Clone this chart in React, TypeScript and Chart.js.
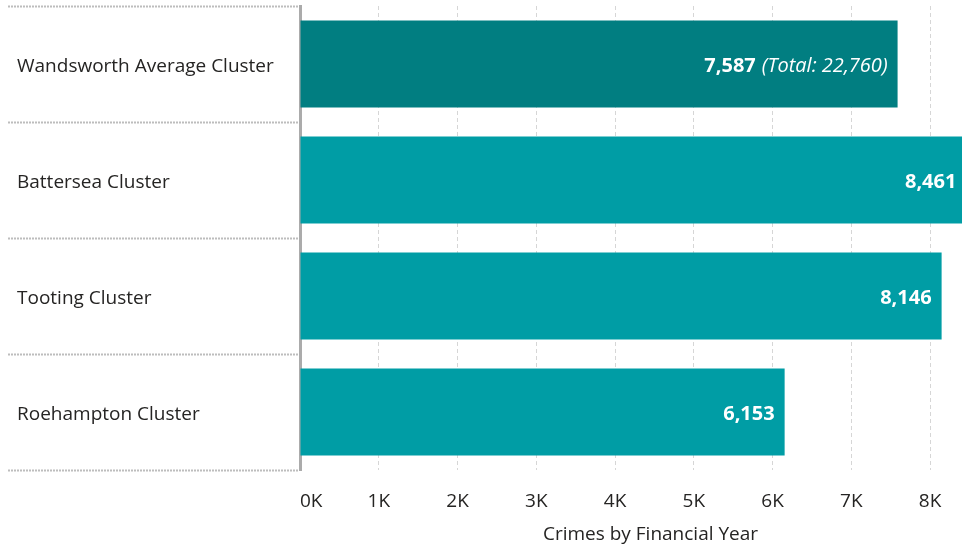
import React, { useEffect, useRef } from "react";
import { Chart, registerables } from "chart.js";

Chart.register(...registerables);

const categories = [
  "Wandsworth Average Cluster",
  "Battersea Cluster",
  "Tooting Cluster",
  "Roehampton Cluster",
];
const crimes = [7587, 8461, 8146, 6153];
const totalLabel = "(Total: 22,760)";
const barColors = ["#017E81", "#009DA5", "#009DA5", "#009DA5"];
const xTickValues = [0, 1000, 2000, 3000, 4000, 5000, 6000, 7000, 8000];
const xMax = 8900;
const xTitle = "Crimes by Financial Year";

const FONT = "'Segoe UI', 'Open Sans', sans-serif";
const TEXT = "#252423";

const valueLabels = {
  id: "valueLabels",
  afterDatasetsDraw(chart: any) {
    const ctx = chart.ctx;
    const meta = chart.getDatasetMeta(0);
    ctx.save();
    ctx.fillStyle = "#ffffff";
    ctx.textBaseline = "middle";
    meta.data.forEach((el: any, i: number) => {
      let x = el.x - 10;
      const y = el.y + 2;
      ctx.textAlign = "right";
      if (i === 0) {
        ctx.font = `italic 20px ${FONT}`;
        ctx.fillText(totalLabel, x, y);
        x -= ctx.measureText(totalLabel).width + 6;
      }
      ctx.font = `bold 20px ${FONT}`;
      ctx.fillText(crimes[i].toLocaleString("en-US"), x, y);
    });
    ctx.restore();
  },
};

export default function App() {
  const ref = useRef<HTMLCanvasElement>(null);
  useEffect(() => {
    if (!ref.current) return;
    const chart = new Chart(ref.current, {
      type: "bar",
      data: {
        labels: categories,
        datasets: [
          {
            data: crimes,
            backgroundColor: barColors,
            barPercentage: 0.75,
            categoryPercentage: 1,
          },
        ],
      },
      plugins: [valueLabels],
      options: {
        indexAxis: "y",
        responsive: false,
        animation: false,
        devicePixelRatio: 1,
        layout: { padding: { left: 17, top: 6, right: 0, bottom: 0 } },
        plugins: { legend: { display: false }, tooltip: { enabled: false } },
        scales: {
          x: {
            min: 0,
            max: xMax,
            position: "bottom",
            afterBuildTicks(scale: any) {
              scale.ticks = [...xTickValues, xMax].map((v) => ({ value: v }));
            },
            afterFit(scale: any) {
              scale.height = 76;
              scale.paddingLeft = 0;
              scale.paddingRight = 0;
            },
            border: { display: false, dash: [4, 3] },
            grid: {
              drawTicks: false,
              lineWidth: 1,
              color: (c: any) =>
                c.tick && c.tick.value > 0 && c.tick.value < xMax
                  ? "#d6d6d6"
                  : "rgba(0,0,0,0)",
            },
            ticks: {
              autoSkip: false,
              maxRotation: 0,
              align: "inner",
              padding: 20,
              color: TEXT,
              font: { family: FONT, size: 19 },
              callback: (v: any) => (Number(v) >= xMax ? "" : Number(v) / 1000 + "K"),
            },
            title: {
              display: true,
              text: xTitle,
              color: TEXT,
              font: { family: FONT, size: 19 },
              padding: { top: 2, bottom: 0 },
            },
          },
          y: {
            position: "left",
            afterFit(scale: any) {
              scale.width = 283;
              scale.paddingTop = 0;
              scale.paddingBottom = 0;
            },
            border: { display: true, color: "#ababab", width: 3 },
            grid: {
              offset: true,
              drawOnChartArea: false,
              drawTicks: true,
              tickLength: 292,
              tickColor: "#bdbdbd",
              tickWidth: 2,
              tickBorderDash: [2, 1],
            },
            ticks: {
              crossAlign: "far",
              labelOffset: 3,
              color: TEXT,
              font: { family: FONT, size: 19 },
            },
          },
        },
      },
    } as any);
    return () => chart.destroy();
  }, []);
  return (
    <div
      style={{
        position: "absolute",
        left: 0,
        top: 0,
        width: 962,
        height: 546,
        overflow: "hidden",
        background: "#fff",
      }}
    >
      <canvas ref={ref} width={1001} height={546} style={{ display: "block", width: 1001, height: 546 }} />
    </div>
  );
}
